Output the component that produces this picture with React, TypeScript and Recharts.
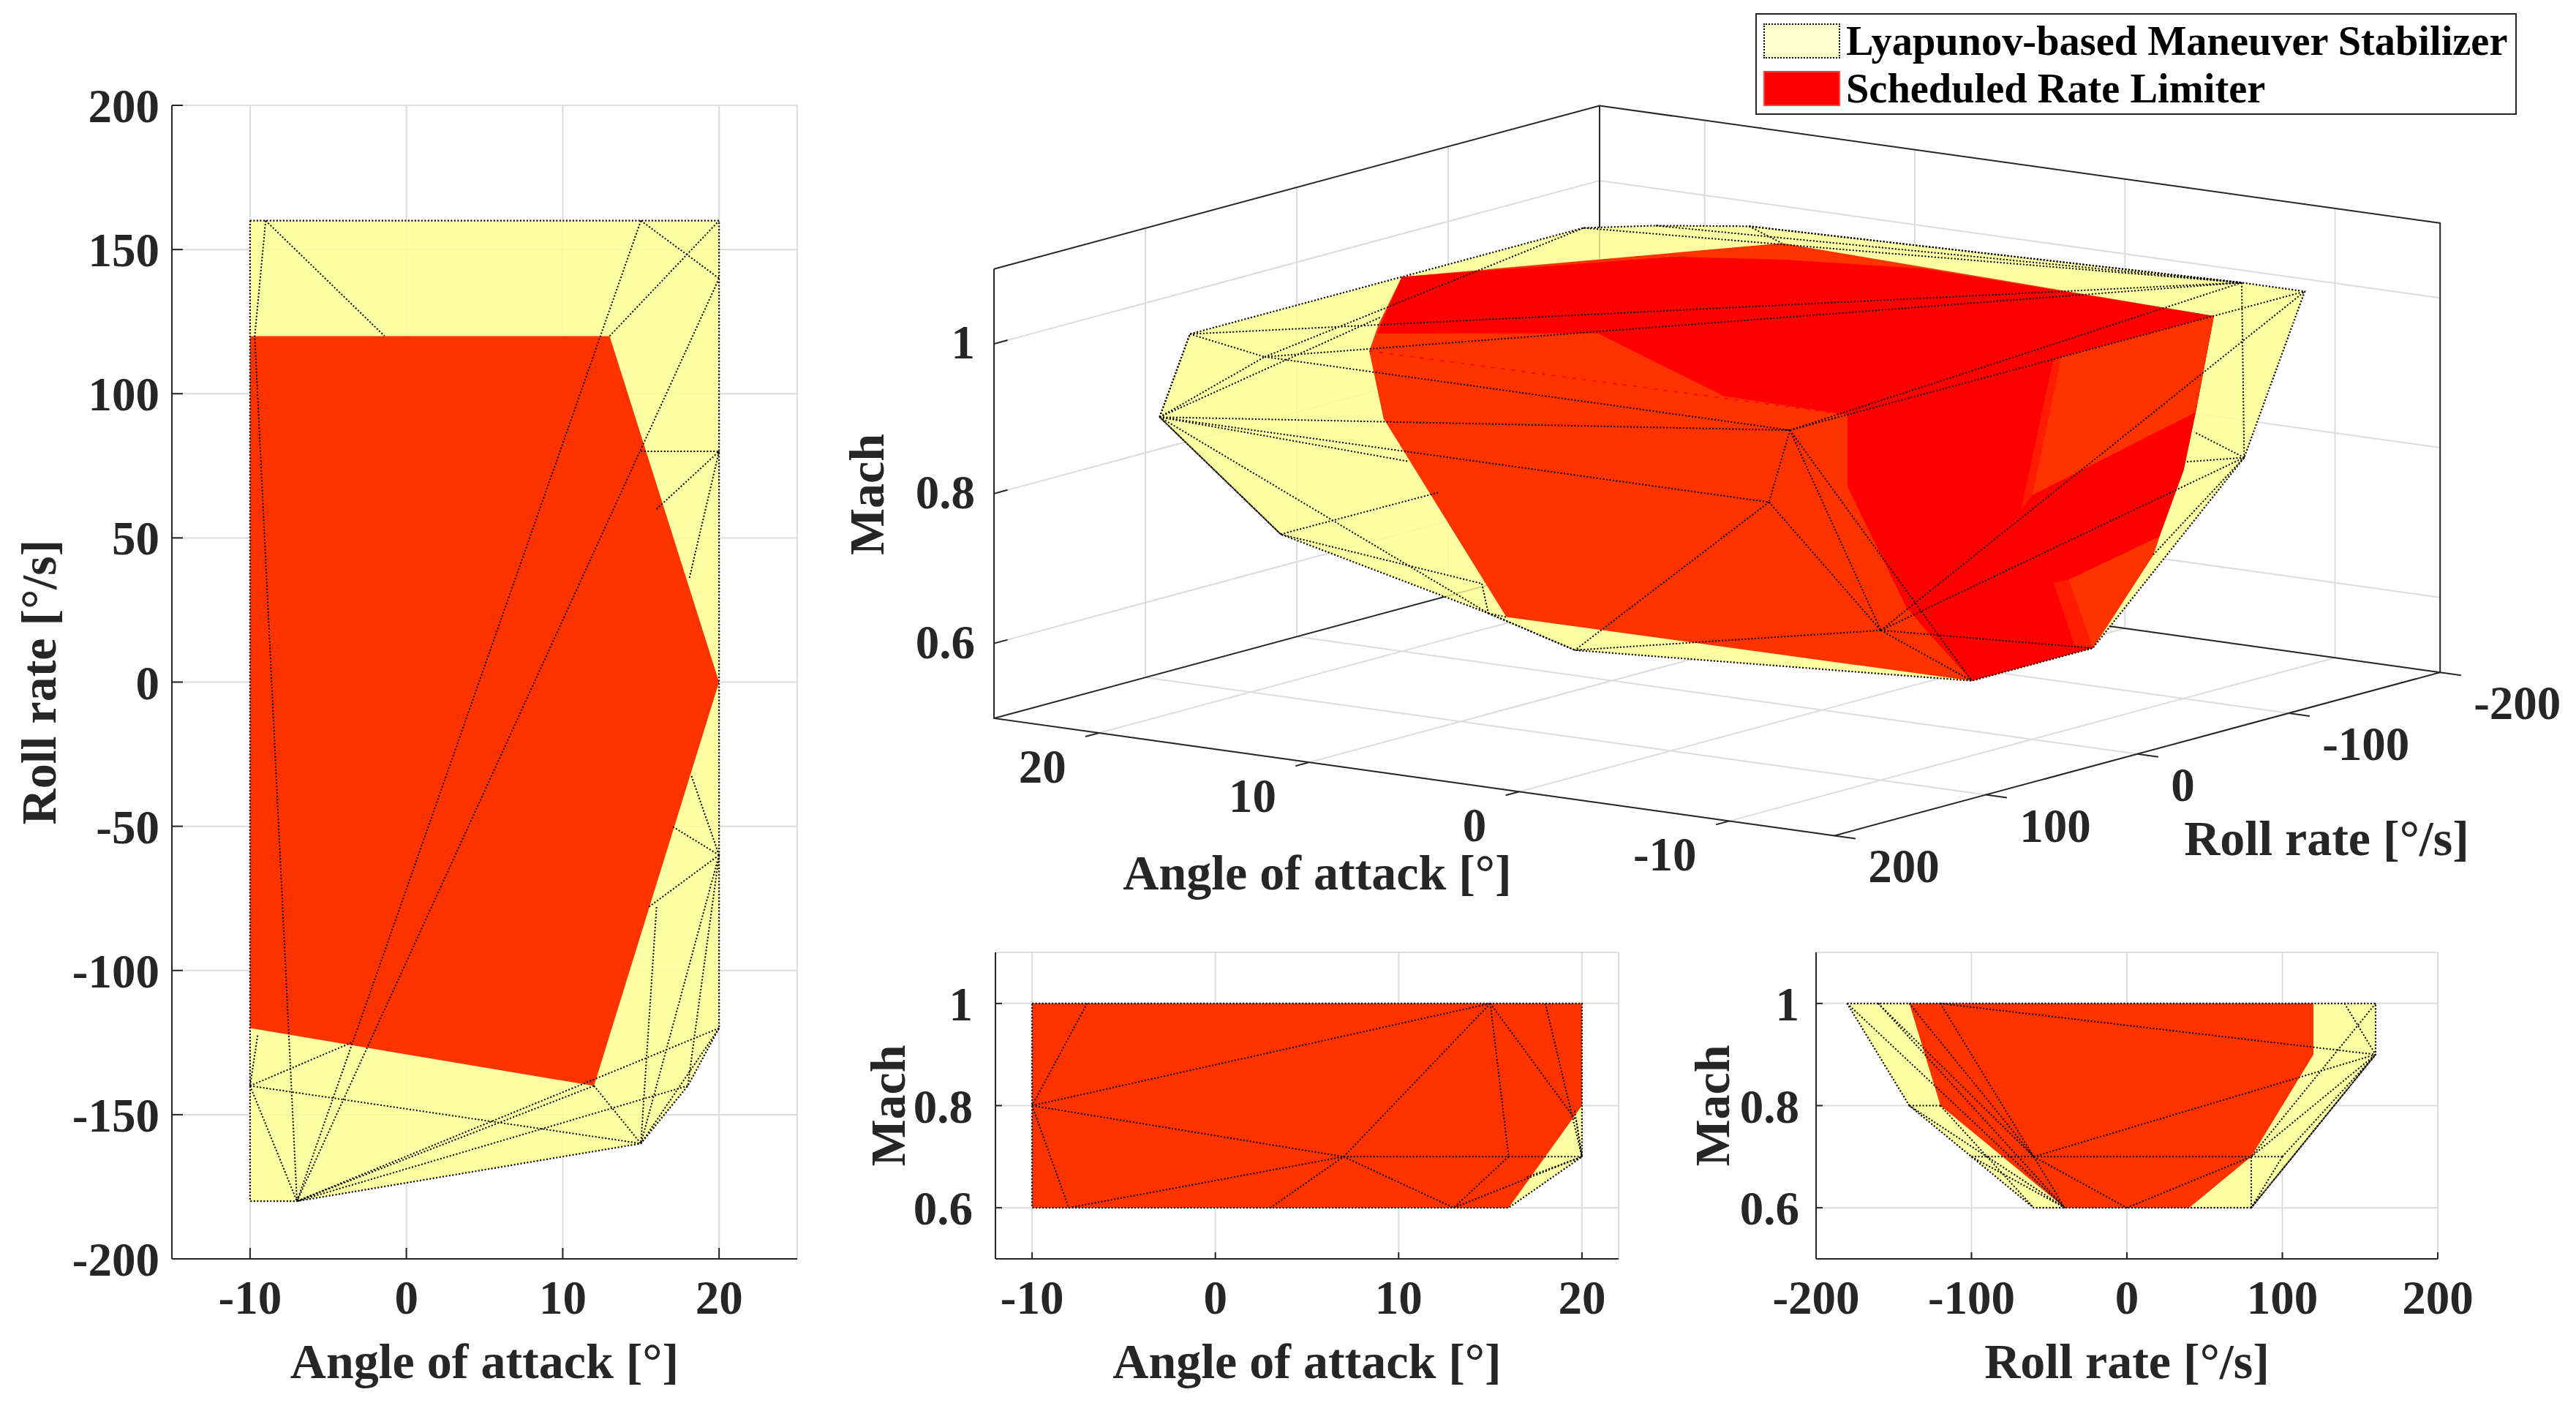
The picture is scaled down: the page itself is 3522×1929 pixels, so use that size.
import { Scatter, ScatterChart, XAxis, YAxis, CartesianGrid } from 'recharts'

type P2 = [number, number]
type P3 = [number, number, number]

const FONT = '"Liberation Serif", "Times New Roman", serif'
const INK = '#262626'
const YELLOW = '#ffff8c'
const ORANGE = '#ff3300'
const MID_RED = '#ff1c00'
const RED = '#ff0000'
const DOTS = '2 2.5'

const alphaTicks = [-10, 0, 10, 20]
const rollTicksWide = [-200, -150, -100, -50, 0, 50, 100, 150, 200]
const rollTicks = [-200, -100, 0, 100, 200]
const machTicks = [0.6, 0.8, 1]

// Angle of attack / roll rate view
const topHull: P2[] = [[-10, 160], [20, 160], [20, -120], [18, -140], [15, -160], [-7, -180], [-10, -180]]
const topRed: P2[] = [[-10, 120], [13, 120], [20, 0], [12, -140], [-10, -120]]
const topWires: P2[][] = [
  [[-9, 160], [-1.4, 120]],
  [[-9, 160], [-9.7, 120], [-7, -180]],
  [[15, 160], [-7, -180]],
  [[20, 140], [-7, -180]],
  [[13, 120], [20, 160]],
  [[15, 160], [20, 140]],
  [[15, 80], [20, 80]],
  [[16, 60], [20, 80]],
  [[20, 80], [18.1, 36]],
  [[20, -60], [18.2, -32]],
  [[20, -60], [17, -50]],
  [[20, -60], [15.5, -78]],
  [[16, -78], [15, -160]],
  [[20, -60], [15, -160]],
  [[20, -60], [18, -140]],
  [[20, -120], [-7, -180]],
  [[18, -140], [-7, -180]],
  [[12, -140], [15, -160]],
  [[12, -140], [-7, -180]],
  [[-10, -140], [15, -160]],
  [[-10, -140], [-3.5, -125]],
  [[-10, -140], [-9.5, -122]],
  [[-10, -140], [-7, -180]],
  [[20, -120], [15, -160]],
]

// Angle of attack / Mach view
const leftHull: P2[] = [[-10, 1], [20, 1], [20, 0.7], [16, 0.6], [-10, 0.6]]
const leftRed: P2[] = [[-10, 1], [20, 1], [20, 0.8], [16, 0.6], [-10, 0.6]]
const leftWires: P2[][] = [
  [[-7, 1], [-10, 0.8]],
  [[-10, 0.8], [15, 1]],
  [[-10, 0.8], [7, 0.7]],
  [[-10, 0.8], [-8, 0.6]],
  [[-8, 0.6], [7, 0.7]],
  [[3, 0.6], [7, 0.7]],
  [[7, 0.7], [13, 0.6]],
  [[7, 0.7], [15, 1]],
  [[7, 0.7], [20, 0.7]],
  [[15, 1], [16, 0.7]],
  [[16, 0.7], [13, 0.6]],
  [[15, 1], [19.7, 0.77], [20, 0.7]],
  [[18, 1], [20, 0.7]],
  [[13, 0.6], [20, 0.7]],
  [[17, 0.66], [20, 0.7]],
  [[19.6, 0.79], [20, 0.7]],
]

// Roll rate / Mach view
const rightHull: P2[] = [[-180, 1], [160, 1], [160, 0.9], [80, 0.6], [-60, 0.6], [-140, 0.8]]
const rightRed: P2[] = [[-140, 1], [120, 1], [120, 0.9], [80, 0.7], [40, 0.6], [-40, 0.6], [-80, 0.7], [-120, 0.8]]
const rightWires: P2[][] = [
  [[-120, 1], [160, 0.9]],
  [[-60, 0.7], [160, 0.9]],
  [[-100, 0.7], [80, 0.7]],
  [[-60, 0.7], [0, 0.6]],
  [[-60, 0.7], [-40, 0.6]],
  [[-120, 1], [-60, 0.7]],
  [[-140, 1], [-60, 0.7]],
  [[-160, 1], [-40, 0.6]],
  [[-180, 1], [-40, 0.6]],
  [[-160, 1], [-60, 0.7]],
  [[0, 0.6], [80, 0.7]],
  [[80, 0.7], [160, 0.9]],
  [[80, 0.7], [100, 0.7]],
  [[80, 0.6], [80, 0.7]],
  [[80, 0.6], [160, 0.9]],
  [[100, 0.7], [80, 0.6]],
  [[-140, 0.8], [-40, 0.6]],
  [[-140, 0.8], [-120, 0.8]],
  [[-120, 0.8], [-60, 0.6]],
  [[100, 0.7], [160, 0.9]],
  [[140, 1], [160, 0.9]],
  [[160, 1], [80, 0.7]],
  [[-100, 0.7], [-40, 0.6]],
]

// 3D view, vertices as [angle of attack, roll rate, Mach]
const vA: P3 = [20, 160, 0.9]
const vB: P3 = [15, 160, 1]
const vC: P3 = [20, 140, 1]
const vD: P3 = [20, -120, 1]
const vE: P3 = [18, -140, 1]
const vG: P3 = [15, -160, 1]
const vH: P3 = [-7, -180, 1]
const vI: P3 = [-10, -180, 1]
const vJ: P3 = [-10, -140, 0.8]
const vK: P3 = [-10, -40, 0.6]
const vL: P3 = [-10, 40, 0.6]
const vM: P3 = [6, 80, 0.6]
const vN: P3 = [13, 40, 0.6]
const vO: P3 = [20, 80, 0.7]
const vF: P3 = [-10, 160, 1]
const vQ: P3 = [-9, 160, 0.9]
const vS: P3 = [-10, 100, 0.7]
const vT: P3 = [12, -140, 1]
const vU: P3 = [12.3, 54, 0.65]
const vW: P3 = [12, 42, 0.6]

const hull3d: P3[] = [vA, vC, vD, vE, vG, vH, vI, vJ, vK, vL, vM, vN, vO]
const wires3d: P3[][] = [
  [vA, vB], [vA, vC], [vA, vF], [vA, vQ], [vA, vN], [vA, vO],
  [vA, [11.4, 115, 0.85]], [vA, [16, 69, 1]],
  [vC, vB], [vB, vD], [vB, vF], [vB, vH], [vC, vH],
  [vD, vH], [vE, vH], [vG, vH], [vG, vT],
  [vF, vH], [vF, vI], [vF, vQ], [vF, vS], [vF, vL],
  [vQ, vM], [vQ, vS],
  [vS, vM], [vS, vL], [vS, vK], [vS, vJ], [vS, vI],
  [vH, vJ], [vN, vM],
  [vO, [11.2, 98, 0.8]], [vO, vU], [vU, vN], [vN, vW],
  [vJ, [-10, -107, 0.852]], [vJ, [-10, -102, 0.815]], [vJ, [-10, -80, 0.703]],
]

const red3d: P3[] = [
  [20, 0, 1], vT, [-10, -120, 1], [-10, -108, 0.878], [-10, -100, 0.805], [-10, -84, 0.725], [-10, -80, 0.703], vK, vL,
  vW, [12.8, 112, 0.9], [12.4, 127, 1], [15.2, 82, 1],
]
const redTop3d: P3[] = [
  [14.2, 97, 1], [20, 0, 1], [13.8, -94, 1], [10, -114, 1], [4.6, -131, 1], [-10, -120, 1],
  [-10, 122, 1], [-4, 120, 1], [7.3, 47, 1],
]
const redSide3d: P3[] = [
  [-10, 122, 1], [-10, -120, 1], [-10, -108, 0.878], [-10, -100, 0.805], [-10, -84, 0.725], [-10, -80, 0.703], vK, vL,
  [-10, 68, 0.678], [-10, 83, 0.721], [-10, 122, 0.904],
]
const upperBand3d: P3[] = [[-10, -14, 1], [-10, -19, 1], [-10, 0, 0.826], [-10, 7.5, 0.81]]
const upperPatch3d: P3[] = [[-10, -19, 1], [-10, -120, 1], [-10, -108, 0.878], [-10, 0, 0.826]]
const lowerBand3d: P3[] = [[-10, -14, 0.702], [-10, -24, 0.7], vK, [-10, -28, 0.61]]
const lowerPatch3d: P3[] = [[-10, -24, 0.7], [-10, -84, 0.725], [-10, -80, 0.703], vK]
const redFaint3d: P3[] = [[12.4, 127, 1], [-10, 122, 1]]

const wallAlpha = [-10, 0, 10, 20]
const wallRoll = [-200, -100, 0, 100, 200]
const wallMach = [0.6, 0.8, 1]

const A_MAX = 25
const A_MIN = -15
const R_MAX = 200
const R_MIN = -200
const M_MIN = 0.5
const M_MAX = 1.1

// orthographic view of the MATLAB axes box, page pixels
const project = ([a, r, m]: P3) => ({
  x: 1359 + (A_MAX - a) * 28.73 + (R_MAX - r) * 2.07,
  y: 982 - (m - M_MIN) * 1023.8 + (A_MAX - a) * 4.01 - (R_MAX - r) * 0.558,
})

const noDot = () => <g />
const blankTick = () => <g />
const toXY = (pts: P2[]) => pts.map(([x, y]) => ({ x, y }))

const fillSeries = (pts: { x: number; y: number }[], fill: string, key: string, opacity = 1) => (
  <Scatter
    key={key}
    data={pts}
    shape={noDot}
    line={{ fill, fillOpacity: opacity, stroke: 'none', strokeWidth: 0 }}
    isAnimationActive={false}
    legendType="none"
  />
)

const lineSeries = (pts: { x: number; y: number }[], stroke: string, width: number, dash: string | undefined, key: string) => (
  <Scatter
    key={key}
    data={pts}
    shape={noDot}
    line={{ fill: 'none', stroke, strokeWidth: width, strokeDasharray: dash }}
    isAnimationActive={false}
    legendType="none"
  />
)

const tickFont = { fontFamily: FONT, fontWeight: 700, fontSize: 65, fill: INK }
const labelFont = { fontFamily: FONT, fontWeight: 700, fontSize: 68, fill: INK, textAnchor: 'middle' as const }

type PanelProps = {
  left: number
  top: number
  width: number
  height: number
  margin: { top: number; right: number; bottom: number; left: number }
  yWidth: number
  xDomain: P2
  yDomain: P2
  xTicks: number[]
  yTicks: number[]
  xLabel: string
  yLabel: string
  yLabelOffset: number
  tickLen: number
  xTickGap: number
  yTickGap: number
  hull: P2[]
  red: P2[]
  wires: P2[][]
}

function Panel(p: PanelProps) {
  return (
    <div style={{ position: 'absolute', left: p.left, top: p.top }}>
      <ScatterChart width={p.width} height={p.height} margin={p.margin}>
        <CartesianGrid stroke="#dddddd" strokeWidth={2} />
        <XAxis
          dataKey="x"
          type="number"
          domain={p.xDomain}
          ticks={p.xTicks}
          interval={0}
          height={208}
          tick={tickFont}
          tickSize={-p.tickLen}
          tickMargin={p.xTickGap}
          stroke={INK}
          strokeWidth={2}
          allowDataOverflow
          label={{ value: p.xLabel, position: 'insideBottom', offset: 45, style: labelFont }}
        />
        <YAxis
          dataKey="y"
          type="number"
          domain={p.yDomain}
          ticks={p.yTicks}
          interval={0}
          width={p.yWidth}
          tick={tickFont}
          tickSize={-p.tickLen}
          tickMargin={p.yTickGap}
          stroke={INK}
          strokeWidth={2}
          allowDataOverflow
          label={{ value: p.yLabel, angle: -90, position: 'insideLeft', offset: p.yLabelOffset, style: labelFont }}
        />
        <XAxis
          xAxisId="top"
          orientation="top"
          dataKey="x"
          type="number"
          domain={p.xDomain}
          ticks={p.xTicks}
          interval={0}
          height={0}
          tick={blankTick}
          tickSize={-p.tickLen}
          stroke={INK}
          strokeWidth={2}
        />
        <YAxis
          yAxisId="right"
          orientation="right"
          dataKey="y"
          type="number"
          domain={p.yDomain}
          ticks={p.yTicks}
          interval={0}
          width={0}
          tick={blankTick}
          tickSize={-p.tickLen}
          stroke={INK}
          strokeWidth={2}
        />
        {fillSeries(toXY(p.hull), YELLOW, 'hull', 0.8)}
        {fillSeries(toXY(p.red), ORANGE, 'red')}
        {lineSeries(toXY([...p.hull, p.hull[0]]), '#000', 2.2, DOTS, 'outline')}
        {p.wires.map((w, i) => lineSeries(toXY(w), '#000', 2, DOTS, `w${i}`))}
      </ScatterChart>
    </div>
  )
}

// 3D chart works in page pixels, every mark goes through project()
const BOX = { left: 1130, top: 100, width: 2392, height: 1160 }

const path3 = (pts: P3[]) => pts.map(project)
const close3 = (pts: P3[]) => path3([...pts, pts[0]])

const gridLines3d: P3[][] = [
  ...wallAlpha.map((a): P3[] => [[a, R_MAX, M_MIN], [a, R_MIN, M_MIN], [a, R_MIN, M_MAX]]),
  ...wallRoll.map((r): P3[] => [[A_MIN, r, M_MIN], [A_MAX, r, M_MIN], [A_MAX, r, M_MAX]]),
  ...wallMach.map((m): P3[] => [[A_MAX, R_MAX, m], [A_MAX, R_MIN, m], [A_MIN, R_MIN, m]]),
]
const boxLines3d: P3[][] = [
  [[A_MAX, R_MAX, M_MAX], [A_MAX, R_MAX, M_MIN], [A_MIN, R_MAX, M_MIN], [A_MIN, R_MIN, M_MIN], [A_MIN, R_MIN, M_MAX], [A_MAX, R_MIN, M_MAX], [A_MAX, R_MAX, M_MAX]],
  [[A_MAX, R_MIN, M_MAX], [A_MAX, R_MIN, M_MIN]],
  [[A_MAX, R_MAX, M_MIN], [A_MAX, R_MIN, M_MIN], [A_MIN, R_MIN, M_MIN]],
]
const tickMarks3d: P3[][] = [
  ...wallAlpha.map((a): P3[] => [[a, R_MAX, M_MIN], [a, R_MAX + 9, M_MIN]]),
  ...wallRoll.map((r): P3[] => [[A_MIN, r, M_MIN], [A_MIN - 1, r, M_MIN]]),
  ...wallMach.map((m): P3[] => [[A_MAX, R_MAX, m], [A_MAX, R_MAX - 9, m]]),
]

type TextPt = { x: number; y: number; label: string }

const alphaText: TextPt[] = wallAlpha.map((a) => {
  const q = project([a, R_MAX, M_MIN])
  return { x: q.x - 45, y: q.y + 46, label: String(a) }
})
const rollText: TextPt[] = wallRoll.map((r) => {
  const q = project([A_MIN, r, M_MIN])
  return { x: q.x + 46, y: q.y + 42, label: String(r) }
})
const machText: TextPt[] = wallMach.map((m) => {
  const q = project([A_MAX, R_MAX, m])
  return { x: q.x - 26, y: q.y - 2, label: String(m) }
})

const textShape = (anchor: 'start' | 'end' | 'middle', size: number, rotate?: number) => (s: any) => (
  <text
    x={s.cx}
    y={s.cy}
    textAnchor={anchor}
    dominantBaseline="central"
    transform={rotate ? `rotate(${rotate} ${s.cx} ${s.cy})` : undefined}
    style={{ fontFamily: FONT, fontWeight: 700, fontSize: size, fill: INK }}
  >
    {s.payload.label}
  </text>
)

function Box3D() {
  return (
    <div style={{ position: 'absolute', left: BOX.left, top: BOX.top }}>
      <ScatterChart width={BOX.width} height={BOX.height} margin={{ top: 0, right: 0, bottom: 0, left: 0 }}>
        <XAxis dataKey="x" type="number" hide domain={[BOX.left, BOX.left + BOX.width]} allowDataOverflow />
        <YAxis dataKey="y" type="number" hide reversed domain={[BOX.top, BOX.top + BOX.height]} allowDataOverflow />
        {gridLines3d.map((g, i) => lineSeries(path3(g), '#dcdcdc', 2, undefined, `g${i}`))}
        {boxLines3d.map((g, i) => lineSeries(path3(g), INK, 2, undefined, `b${i}`))}
        {tickMarks3d.map((g, i) => lineSeries(path3(g), INK, 2, undefined, `t${i}`))}
        {fillSeries(path3(hull3d), YELLOW, 'hull', 0.8)}
        {fillSeries(path3(red3d), ORANGE, 'red')}
        {fillSeries(path3(redTop3d), RED, 'redTop')}
        {fillSeries(path3(redSide3d), RED, 'redSide')}
        {fillSeries(path3(upperBand3d), MID_RED, 'upperBand')}
        {fillSeries(path3(upperPatch3d), ORANGE, 'upperPatch')}
        {fillSeries(path3(lowerBand3d), MID_RED, 'lowerBand')}
        {fillSeries(path3(lowerPatch3d), ORANGE, 'lowerPatch')}
        {lineSeries(path3(redFaint3d), RED, 1.6, '5 9', 'redFaint')}
        {lineSeries(close3(hull3d), '#000', 2.2, DOTS, 'outline')}
        {wires3d.map((w, i) => lineSeries(path3(w), '#000', 2, DOTS, `w${i}`))}
        <Scatter data={alphaText} shape={textShape('end', 65)} isAnimationActive={false} legendType="none" />
        <Scatter data={rollText} shape={textShape('start', 65)} isAnimationActive={false} legendType="none" />
        <Scatter data={machText} shape={textShape('end', 65)} isAnimationActive={false} legendType="none" />
        <Scatter data={[{ x: 1801, y: 1193, label: 'Angle of attack [°]' }]} shape={textShape('middle', 68)} isAnimationActive={false} legendType="none" />
        <Scatter data={[{ x: 3181, y: 1146, label: 'Roll rate [°/s]' }]} shape={textShape('middle', 68)} isAnimationActive={false} legendType="none" />
        <Scatter data={[{ x: 1185, y: 676, label: 'Mach' }]} shape={textShape('middle', 68, -90)} isAnimationActive={false} legendType="none" />
      </ScatterChart>
    </div>
  )
}

const legendItems = [
  { label: 'Lyapunov-based Maneuver Stabilizer', color: '#ffffd0', border: '2px dotted #000' },
  { label: 'Scheduled Rate Limiter', color: RED, border: '2px solid #ff4040' },
]

function LegendBox() {
  return (
    <div
      style={{
        position: 'absolute',
        left: 2400,
        top: 18,
        width: 1041,
        height: 139,
        border: `2px solid ${INK}`,
        background: '#fff',
        boxSizing: 'border-box',
      }}
    >
      {legendItems.map((it, i) => (
        <div key={it.label} style={{ position: 'absolute', left: 9, top: 12 + i * 64.5, display: 'flex', alignItems: 'center' }}>
          <span style={{ width: 105, height: 48, background: it.color, border: it.border, boxSizing: 'border-box', marginRight: 8 }} />
          <span style={{ fontFamily: FONT, fontWeight: 700, fontSize: 56.4, color: '#000', lineHeight: '48px', whiteSpace: 'nowrap' }}>{it.label}</span>
        </div>
      ))}
    </div>
  )
}

export default function App() {
  return (
    <div style={{ position: 'absolute', left: 0, top: 0, width: 3522, height: 1929, background: '#fff', overflow: 'hidden' }}>
      <Panel
        left={0}
        top={0}
        width={1130}
        height={1929}
        margin={{ top: 144, right: 40, bottom: 0, left: 0 }}
        yWidth={235}
        xDomain={[A_MIN, A_MAX]}
        yDomain={[R_MIN, R_MAX]}
        xTicks={alphaTicks}
        yTicks={rollTicksWide}
        xLabel="Angle of attack [°]"
        yLabel="Roll rate [°/s]"
        yLabelOffset={52}
        tickLen={15}
        xTickGap={44}
        yTickGap={32}
        hull={topHull}
        red={topRed}
        wires={topWires}
      />
      <Box3D />
      <Panel
        left={1130}
        top={1280}
        width={1120}
        height={649}
        margin={{ top: 22, right: 37, bottom: 0, left: 0 }}
        yWidth={231}
        xDomain={[-12, 22]}
        yDomain={[M_MIN, M_MAX]}
        xTicks={alphaTicks}
        yTicks={machTicks}
        xLabel="Angle of attack [°]"
        yLabel="Mach"
        yLabelOffset={83}
        tickLen={9}
        xTickGap={38}
        yTickGap={40}
        hull={leftHull}
        red={leftRed}
        wires={leftWires}
      />
      <Panel
        left={2250}
        top={1280}
        width={1272}
        height={649}
        margin={{ top: 22, right: 189, bottom: 0, left: 0 }}
        yWidth={233}
        xDomain={[R_MIN, R_MAX]}
        yDomain={[M_MIN, M_MAX]}
        xTicks={rollTicks}
        yTicks={machTicks}
        xLabel="Roll rate [°/s]"
        yLabel="Mach"
        yLabelOffset={90}
        tickLen={9}
        xTickGap={38}
        yTickGap={32}
        hull={rightHull}
        red={rightRed}
        wires={rightWires}
      />
      <LegendBox />
    </div>
  )
}
